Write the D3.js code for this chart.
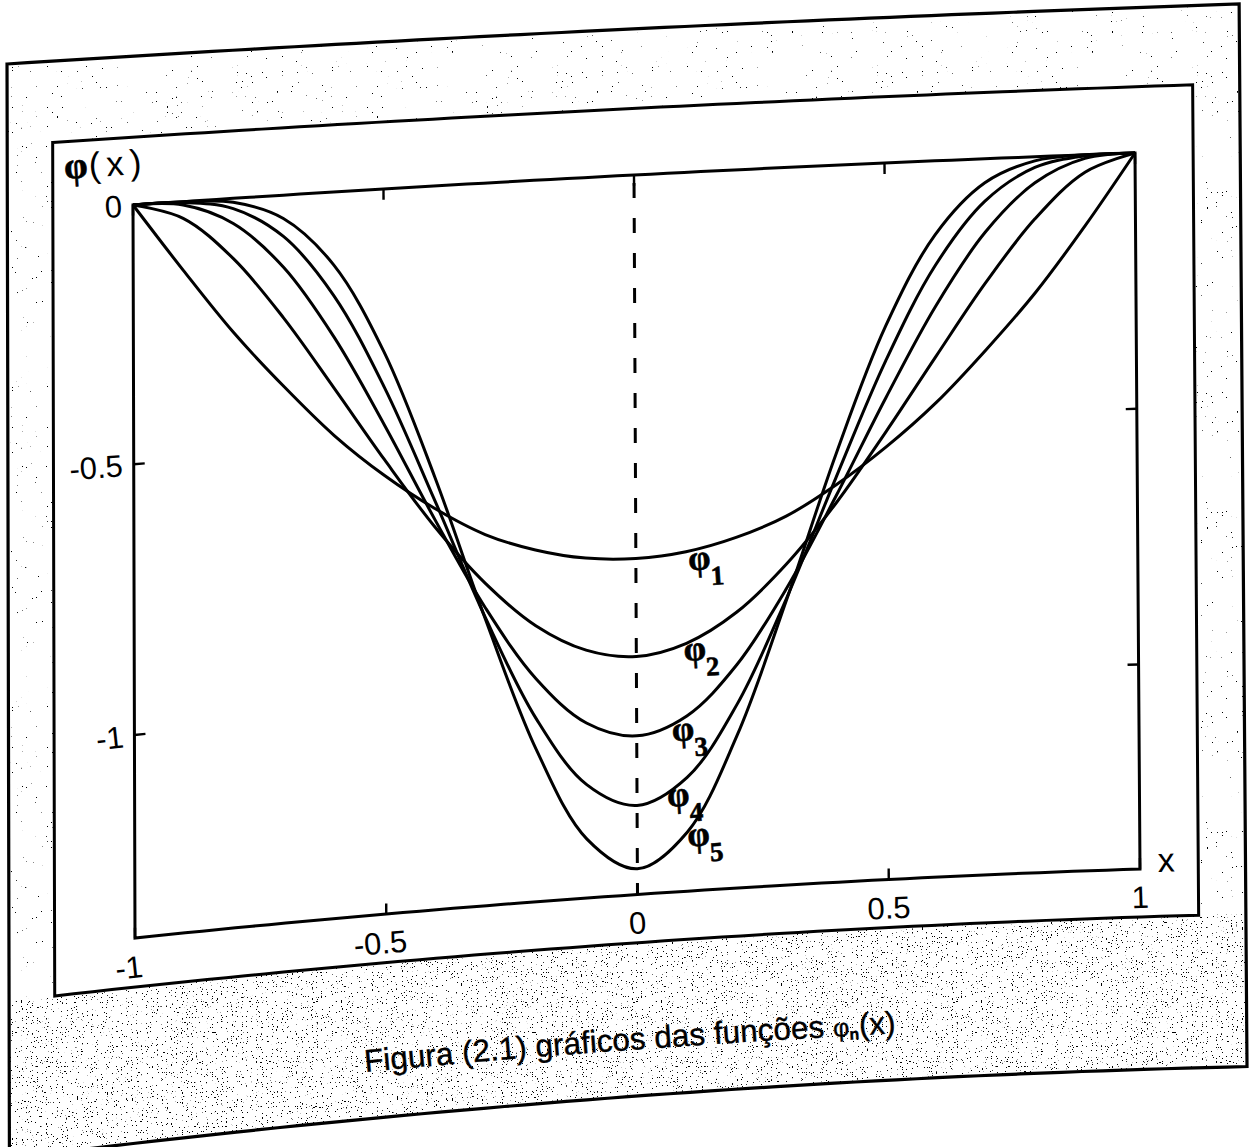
<!DOCTYPE html>
<html>
<head>
<meta charset="utf-8">
<script src="https://cdn.jsdelivr.net/npm/d3@7"></script>
<style>
  html, body { margin: 0; padding: 0; background: #fff; }
  svg { display: block; }
</style>
</head>
<body>
<svg id="fig" width="1250" height="1147"></svg>
<script>
// values (phi_n at x = -1 .. 1, step 0.1)
const X_VALUES = [-1, -0.9, -0.8, -0.7, -0.6, -0.5, -0.4, -0.3, -0.2, -0.1, 0, 0.1, 0.2, 0.3, 0.4, 0.5, 0.6, 0.7, 0.8, 0.9, 1];
const PHI_1 = [0, -0.138, -0.265, -0.374, -0.473, -0.555, -0.624, -0.680, -0.716, -0.738, -0.745, -0.738, -0.716, -0.680, -0.624, -0.555, -0.473, -0.374, -0.265, -0.138, 0];
const PHI_2 = [0, -0.034, -0.121, -0.243, -0.383, -0.525, -0.659, -0.773, -0.861, -0.915, -0.934, -0.915, -0.861, -0.773, -0.659, -0.525, -0.383, -0.243, -0.121, -0.034, 0];
const PHI_3 = [0, -0.007, -0.051, -0.144, -0.285, -0.459, -0.645, -0.820, -0.963, -1.056, -1.088, -1.056, -0.963, -0.820, -0.645, -0.459, -0.285, -0.144, -0.051, -0.007, 0];
const PHI_4 = [0, -0.002, -0.021, -0.083, -0.205, -0.387, -0.609, -0.839, -1.040, -1.176, -1.224, -1.176, -1.040, -0.839, -0.609, -0.387, -0.205, -0.083, -0.021, -0.002, 0];
const PHI_5 = [0, 0, -0.008, -0.047, -0.145, -0.320, -0.564, -0.842, -1.100, -1.283, -1.349, -1.283, -1.100, -0.842, -0.564, -0.320, -0.145, -0.047, -0.008, 0, 0];
const SERIES = [PHI_1, PHI_2, PHI_3, PHI_4, PHI_5];
const SERIES_NAMES = ['1', '2', '3', '4', '5'];

const X_TICKS = [-1, -0.5, 0, 0.5, 1];
const Y_TICKS = [0, -0.5, -1];
const CAPTION = 'Figura (2.1) gráficos das funções ';

// ---- layout -----------------------------------------------------------
const xScale = d3.scaleLinear().domain([-1, 1]).range([0, 1]);
const yScale = d3.scaleLinear().domain([0, -1.4]).range([0, 1]);

// the scan is bent: map plot fractions (u, v) onto the photographed page
function warp(u, v) {
    const top = 205 - 52 * u - 16 * u * (1 - u);
    const bot = 938 - 69 * u - 36 * u * (1 - u);
    let vv = v;
    if (v > 0 && v < 1) vv += 0.163 * v * (1 - v) * (v - 0.45) * Math.pow(Math.max(0, 1 - u), 2);
    return [133 + 1002 * u + (2 + 3 * u) * v, top + (bot - top) * vv];
}
const P = (x, y) => warp(xScale(x), yScale(y));

function place(u, v) {
    const p = warp(u, v), q = warp(u + 0.002, v);
    const a = Math.atan2(q[1] - p[1], q[0] - p[0]) * 180 / Math.PI;
    return `translate(${p[0].toFixed(2)},${p[1].toFixed(2)}) rotate(${a.toFixed(3)})`;
}

const lineGen = d3.line();
function edge(u0, v0, u1, v1, n = 60) {
    return d3.range(n + 1).map(i => warp(u0 + (u1 - u0) * i / n, v0 + (v1 - v0) * i / n));
}
function box(u0, v0, u1, v1) {
    const pts = [].concat(edge(u0, v0, u1, v0), edge(u1, v0, u1, v1), edge(u1, v1, u0, v1), edge(u0, v1, u0, v0));
    return lineGen(pts) + 'Z';
}

const OUTER = { u0: -0.1254, v0: -0.203, u1: 1.105, v1: 1.28 };
const INNER = { u0: -0.08, v0: -0.0925, u1: 1.058, v1: 1.067 };

const svg = d3.select('#fig');
svg.append('rect').attr('width', 1250).attr('height', 1147).attr('fill', '#fff');

// scanner speckle
const defs = svg.append('defs');
function speckle(id, seed, threshold) {
    const f = defs.append('filter').attr('id', id).attr('filterUnits', 'userSpaceOnUse')
        .attr('x', 0).attr('y', 0).attr('width', 1250).attr('height', 1147);
    f.append('feTurbulence').attr('type', 'fractalNoise').attr('baseFrequency', 0.8)
        .attr('numOctaves', 1).attr('seed', seed);
    f.append('feColorMatrix').attr('type', 'matrix')
        .attr('values', `0 0 0 0 0  0 0 0 0 0  0 0 0 0 0  -40 0 0 0 ${40 * threshold}`);
}
speckle('speckLight', 3, 0.26);
speckle('speckDark', 9, 0.325);

defs.append('clipPath').attr('id', 'bandClip').append('path')
    .attr('clip-rule', 'evenodd')
    .attr('d', box(OUTER.u0, OUTER.v0, OUTER.u1, INNER.v1) + box(INNER.u0, INNER.v0, INNER.u1, INNER.v1));
defs.append('clipPath').attr('id', 'footClip').append('path')
    .attr('d', box(OUTER.u0, INNER.v1, OUTER.u1, OUTER.v1));

svg.append('rect').attr('width', 1250).attr('height', 1147)
    .attr('clip-path', 'url(#bandClip)').attr('filter', 'url(#speckLight)');
svg.append('rect').attr('width', 1250).attr('height', 1147)
    .attr('clip-path', 'url(#footClip)').attr('filter', 'url(#speckDark)');

// frames
svg.append('path').attr('d', box(OUTER.u0, OUTER.v0, OUTER.u1, OUTER.v1))
    .attr('fill', 'none').attr('stroke', '#000').attr('stroke-width', 3.2);
svg.append('path').attr('d', box(INNER.u0, INNER.v0, INNER.u1, INNER.v1))
    .attr('fill', 'none').attr('stroke', '#000').attr('stroke-width', 3);

// axes box
const g = svg.append('g');
g.append('path').attr('d', box(0, 0, 1, 1))
    .attr('fill', 'none').attr('stroke', '#000').attr('stroke-width', 3);

// ticks on all four sides, pointing inwards
const tickU = 11 / 1002, tickV = 11 / 720;
const ticks = [];
X_TICKS.forEach(t => {
    const u = xScale(t);
    ticks.push([warp(u, 0), warp(u, tickV)], [warp(u, 1), warp(u, 1 - tickV)]);
});
Y_TICKS.forEach(t => {
    const v = yScale(t);
    ticks.push([warp(0, v), warp(tickU, v)], [warp(1, v), warp(1 - tickU, v)]);
});
g.selectAll('.tick').data(ticks).join('path').attr('class', 'tick')
    .attr('d', d => lineGen(d)).attr('stroke', '#000').attr('stroke-width', 2.4);

// dashed line at x = 0
g.append('path')
    .attr('d', lineGen(d3.range(41).map(i => P(0, -1.4 * i / 40))))
    .attr('fill', 'none').attr('stroke', '#000').attr('stroke-width', 3)
    .attr('stroke-dasharray', '15 20').attr('stroke-dashoffset', -8);

// curves
const curve = d3.line().x(d => d[0]).y(d => d[1]).curve(d3.curveCatmullRom.alpha(0.5));
g.selectAll('.phi').data(SERIES).join('path').attr('class', 'phi')
    .attr('d', s => curve(s.map((y, i) => P(X_VALUES[i], y))))
    .attr('fill', 'none').attr('stroke', '#000').attr('stroke-width', 3)
    .attr('stroke-linejoin', 'round');

// tick labels
const tickFont = "'Liberation Sans', Arial, sans-serif";
const greekFont = "'Liberation Serif', 'Times New Roman', serif";
g.selectAll('.xl').data(X_TICKS).join('text').attr('class', 'xl')
    .attr('transform', t => place(xScale(t), 1.039))
    .attr('text-anchor', 'middle').attr('dy', '0.36em').attr('dx', t => t < 0 ? -6 : 0)
    .attr('font-family', tickFont).attr('font-size', 31)
    .text(t => String(t));
g.selectAll('.yl').data(Y_TICKS).join('text').attr('class', 'yl')
    .attr('transform', t => place(-11 / 1002, yScale(t)))
    .attr('text-anchor', 'end').attr('dy', '0.36em')
    .attr('font-family', tickFont).attr('font-size', 31)
    .text(t => String(t));

// axis names
const yName = g.append('text').attr('transform', place(-0.068, -0.0417));
yName.append('tspan').text('φ').attr('font-family', greekFont).attr('font-weight', 'bold').attr('font-size', 38)
    .attr('stroke', '#000').attr('stroke-width', 0.6);
yName.append('tspan').text('(x)').attr('font-family', tickFont).attr('font-size', 35)
    .attr('letter-spacing', 6).attr('dx', 1);

g.append('text').attr('transform', place(1.018, 1.005))
    .attr('font-family', tickFont).attr('font-size', 34).text('x');

// curve labels (data position of the label's lower-left corner)
const LABEL_AT = [[0.106, -0.788], [0.096, -0.963], [0.072, -1.1175], [0.062, -1.245], [0.102, -1.326]];
SERIES_NAMES.forEach((n, i) => {
    const [lx, ly] = LABEL_AT[i];
    const t = g.append('text').attr('transform', place(xScale(lx), yScale(ly)))
        .attr('font-family', greekFont).attr('font-weight', 'bold')
        .attr('stroke', '#000').attr('stroke-width', 0.6);
    t.append('tspan').attr('font-size', 36).attr('dy', -7).text('φ');
    t.append('tspan').attr('font-size', 27).attr('dy', 16).attr('dx', -1).text(n);
});

// caption follows the bent page
const capU0 = 0.2285, capV = 1.2152;
defs.append('path').attr('id', 'capPath')
    .attr('d', lineGen(edge(capU0, capV, 1.0, capV, 80)));
const cap = svg.append('text').attr('font-family', tickFont).attr('font-size', 31.5)
    .attr('stroke', '#000').attr('stroke-width', 0.4)
    .append('textPath').attr('href', '#capPath');
cap.append('tspan').text(CAPTION);
cap.append('tspan').attr('font-size', 25).text('φ');
cap.append('tspan').attr('font-size', 16).attr('font-weight', 'bold').attr('dy', 4).text('n');
cap.append('tspan').attr('dy', -4).text('(x)');
</script>
</body>
</html>
